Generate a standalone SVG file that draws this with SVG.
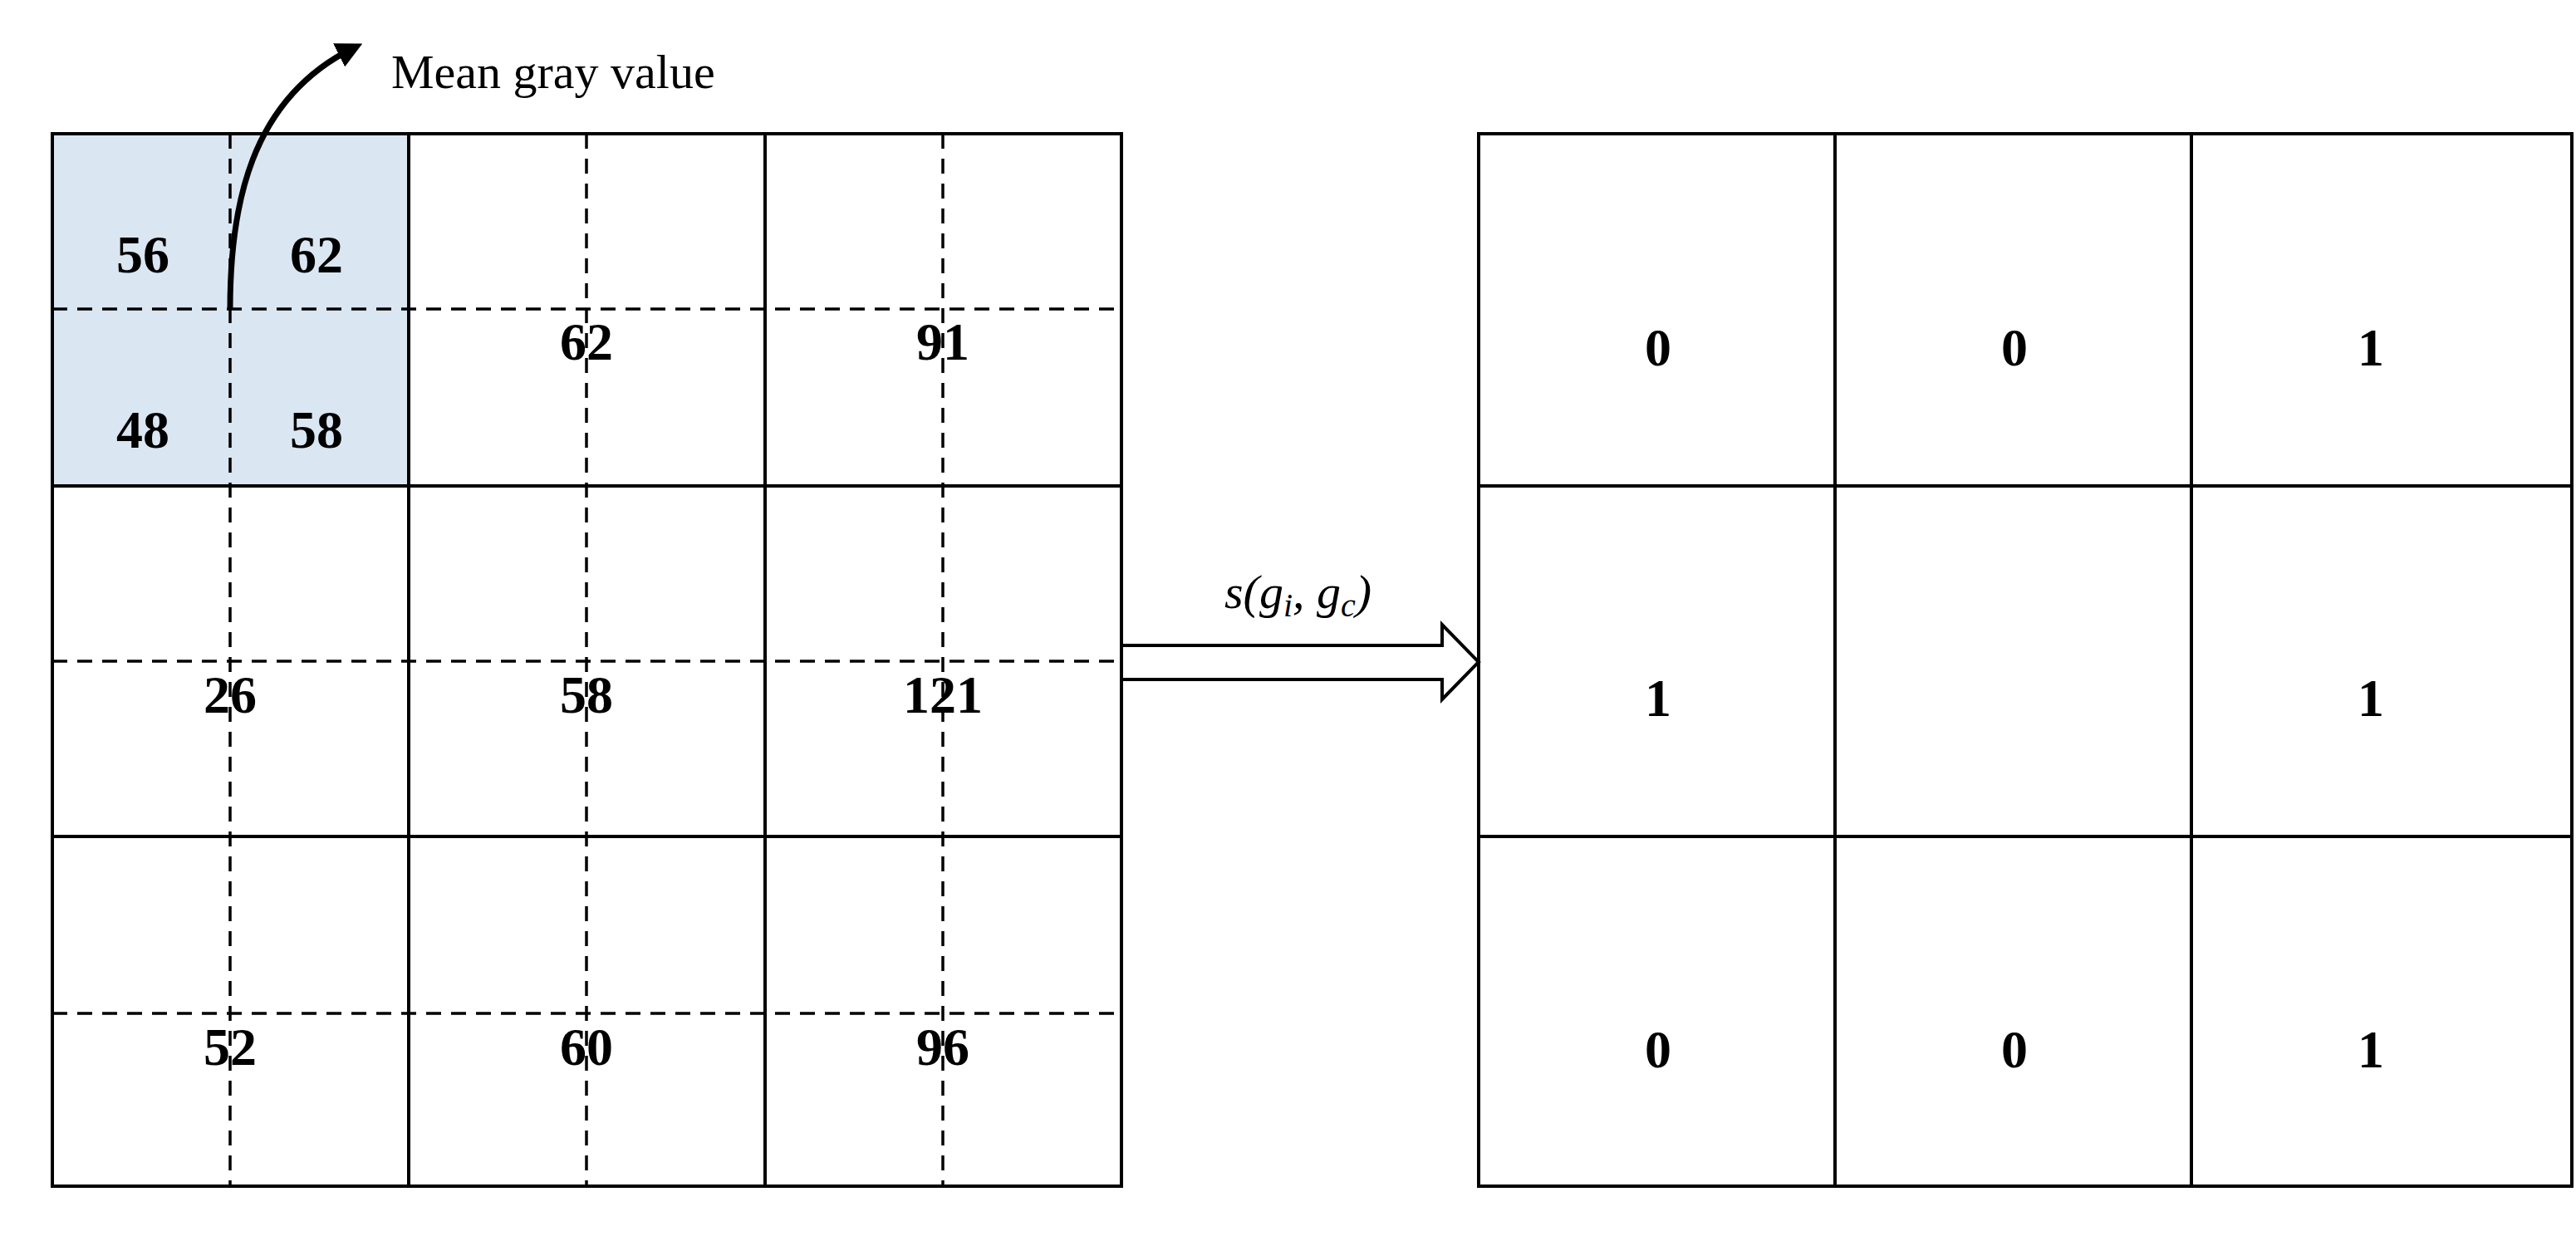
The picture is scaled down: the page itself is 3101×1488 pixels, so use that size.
<svg xmlns="http://www.w3.org/2000/svg" width="3101" height="1488" viewBox="0 0 3101 1488">
<style>
.g{fill:none;stroke:#000;stroke-width:4}
.d{fill:none;stroke:#000;stroke-width:3.5;stroke-dasharray:18 12}
.n{font-family:"Liberation Serif",serif;font-weight:bold;font-size:64px;text-anchor:middle}
.t{font-family:"Liberation Serif",serif;font-size:58px}
</style>
<defs><marker id="ah" viewBox="0 0 10 10" refX="6" refY="5" markerWidth="4.5" markerHeight="4.5" orient="auto"><path d="M0,0L10,5L0,10z"/></marker></defs>
<rect width="3101" height="1488" fill="#fff"/>
<g id="left-grid">
<rect x="63" y="161" width="429" height="424" fill="#dae6f2"/>
<rect class="g" x="63" y="161" width="1287" height="1267"/>
<path class="g" d="M492,161V1428M921,161V1428M63,585H1350M63,1007H1350"/>
<path class="d" d="M277,161V1428M706,161V1428M1135,161V1428M63,372H1350M63,796H1350M63,1220H1350"/>
<text class="n" x="172" y="328">56</text><text class="n" x="381" y="328">62</text>
<text class="n" x="172" y="539">48</text><text class="n" x="381" y="539">58</text>
<text class="n" x="706" y="433">62</text><text class="n" x="1135" y="433">91</text>
<text class="n" x="277" y="858">26</text><text class="n" x="706" y="858">58</text><text class="n" x="1135" y="858">121</text>
<text class="n" x="277" y="1282">52</text><text class="n" x="706" y="1282">60</text><text class="n" x="1135" y="1282">96</text>
</g>
<g id="right-grid">
<rect class="g" x="1780" y="161" width="1316" height="1267"/>
<path class="g" d="M2209,161V1428M2638,161V1428M1780,585H3096M1780,1007H3096"/>
<text class="n" x="1996" y="440">0</text><text class="n" x="2425" y="440">0</text><text class="n" x="2854" y="440">1</text>
<text class="n" x="1996" y="862">1</text><text class="n" x="2854" y="862">1</text>
<text class="n" x="1996" y="1285">0</text><text class="n" x="2425" y="1285">0</text><text class="n" x="2854" y="1285">1</text>
</g>
<g id="connectors">
<path d="M277,372C277,250 300,120 425,58" fill="none" stroke="#000" stroke-width="7" marker-end="url(#ah)"/>
<path d="M1350,777H1736V752L1780,797L1736,842V818H1350Z" fill="#fff" stroke="#000" stroke-width="4"/>
</g>
<text class="t" x="471" y="106">Mean gray value</text>
<text x="1474" y="732" font-family="Liberation Serif,serif" font-style="italic" font-size="58">s(g<tspan font-size="40" dy="10">i</tspan><tspan dy="-10">, g</tspan><tspan font-size="40" dy="10">c</tspan><tspan dy="-10">)</tspan></text>
</svg>
